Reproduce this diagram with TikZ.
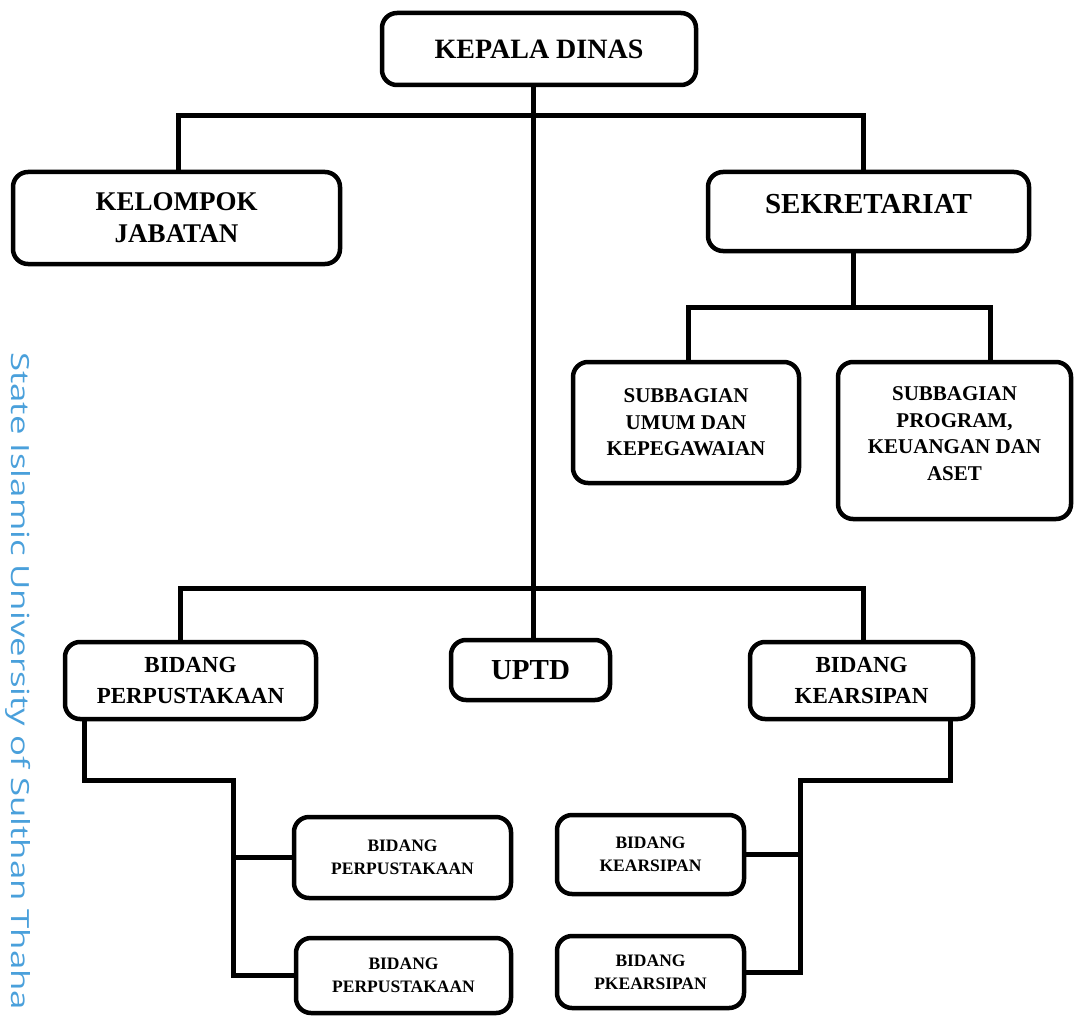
\documentclass[tikz,border=0pt]{standalone}
\usepackage{fontspec}
\setmainfont{Liberation Serif}
\newfontfamily\wmfont{Open Sans}
\begin{document}
\begin{tikzpicture}[x=1pt,y=-1pt,
  box/.style={draw, line width=4.5pt, rounded corners=15pt, fill=white, align=center, inner sep=0pt, font=\bfseries},
  conn/.style={line width=5pt, line cap=rect},
  fkd/.style={font=\bfseries\fontsize{28}{33}\selectfont},
  fbig/.style={font=\bfseries\fontsize{27}{32}\selectfont},
  fsek/.style={font=\bfseries\fontsize{29}{34}\selectfont},
  fsub/.style={font=\bfseries\fontsize{21}{26.5}\selectfont},
  fbid/.style={font=\bfseries\fontsize{23}{31}\selectfont},
  fsmall/.style={font=\bfseries\fontsize{17.5}{23}\selectfont}
]
\useasboundingbox (0,0) rectangle (1075,1019);
\definecolor{wmblue}{RGB}{74,160,219}
% watermark
\node[rotate=-90, anchor=base west, inner sep=0pt, text=wmblue, font=\wmfont\fontsize{25}{28}\selectfont] (wm) at (12,352)
  {\scalebox{1.39}[1]{State Islamic University of Sulthan Thaha}};

% boxes
\node[box, fkd, minimum width=314pt, minimum height=72pt] (kd) at (539,49) {KEPALA DINAS};
\node[box, fbig, minimum width=327pt, minimum height=92pt] (kj) at (176.5,218) {KELOMPOK\\JABATAN};
\node[box, fsek, text depth=15pt, minimum width=321pt, minimum height=79pt] (sek) at (868.5,211.5) {SEKRETARIAT};
\node[box, fsub, minimum width=226pt, minimum height=121pt] (sub1) at (686,422.5) {SUBBAGIAN\\UMUM DAN\\KEPEGAWAIAN};
\node[box, fsub, text depth=14pt, minimum width=233pt, minimum height=157pt] (sub2) at (954.5,440.5) {SUBBAGIAN\\PROGRAM,\\KEUANGAN DAN\\ASET};
\node[box, fbid, minimum width=251pt, minimum height=77pt] (bp) at (190.5,680.5) {BIDANG\\PERPUSTAKAAN};
\node[box, font=\bfseries\fontsize{29}{34}\selectfont, minimum width=159pt, minimum height=60pt] (uptd) at (530.5,670) {UPTD};
\node[box, fbid, minimum width=223pt, minimum height=77pt] (bk) at (861.5,680.5) {BIDANG\\KEARSIPAN};
\node[box, fsmall, minimum width=217pt, minimum height=81pt] (lp1) at (402.5,857.5) {BIDANG\\PERPUSTAKAAN};
\node[box, fsmall, minimum width=215pt, minimum height=75pt] (lp2) at (403.5,975.5) {BIDANG\\PERPUSTAKAAN};
\node[box, fsmall, minimum width=187pt, minimum height=79pt] (rk1) at (650.5,854.5) {BIDANG\\KEARSIPAN};
\node[box, fsmall, minimum width=187pt, minimum height=72pt] (rk2) at (650.5,972) {BIDANG\\PKEARSIPAN};

% junction coordinates
\coordinate (b1l) at (178,116);
\coordinate (b1r) at (863,116);
\coordinate (b2l) at (180,588);
\coordinate (b2r) at (863,588);
\coordinate (kdx) at (533,588);
\coordinate (sx) at (853,307);
\coordinate (s1) at (688,307);
\coordinate (s2) at (990,307);
\coordinate (l1) at (84,780);
\coordinate (l2) at (233,780);
\coordinate (r1) at (950,780);
\coordinate (r2) at (800,780);

% connectors
\draw[conn] (kd.south -| kdx) -- (kdx);
\draw[conn] (b1l) -- (b1r);
\draw[conn] (b1l) -- (b1l |- kj.north);
\draw[conn] (b1r) -- (b1r |- sek.north);
\draw[conn] (sek.south -| sx) -- (sx);
\draw[conn] (s1) -- (s2);
\draw[conn] (s1) -- (s1 |- sub1.north);
\draw[conn] (s2) -- (s2 |- sub2.north);
\draw[conn] (b2l) -- (b2r);
\draw[conn] (b2l) -- (b2l |- bp.north);
\draw[conn] (kdx) -- (kdx |- uptd.north);
\draw[conn] (b2r) -- (b2r |- bk.north);
\draw[conn] (bp.south -| l1) -- (l1) -- (l2) -- (l2 |- lp2.west) -- (lp2.west);
\draw[conn] (l2 |- lp1.west) -- (lp1.west);
\draw[conn] (bk.south -| r1) -- (r1) -- (r2) -- (r2 |- rk2.east) -- (rk2.east);
\draw[conn] (r2 |- rk1.east) -- (rk1.east);
\end{tikzpicture}
\end{document}
